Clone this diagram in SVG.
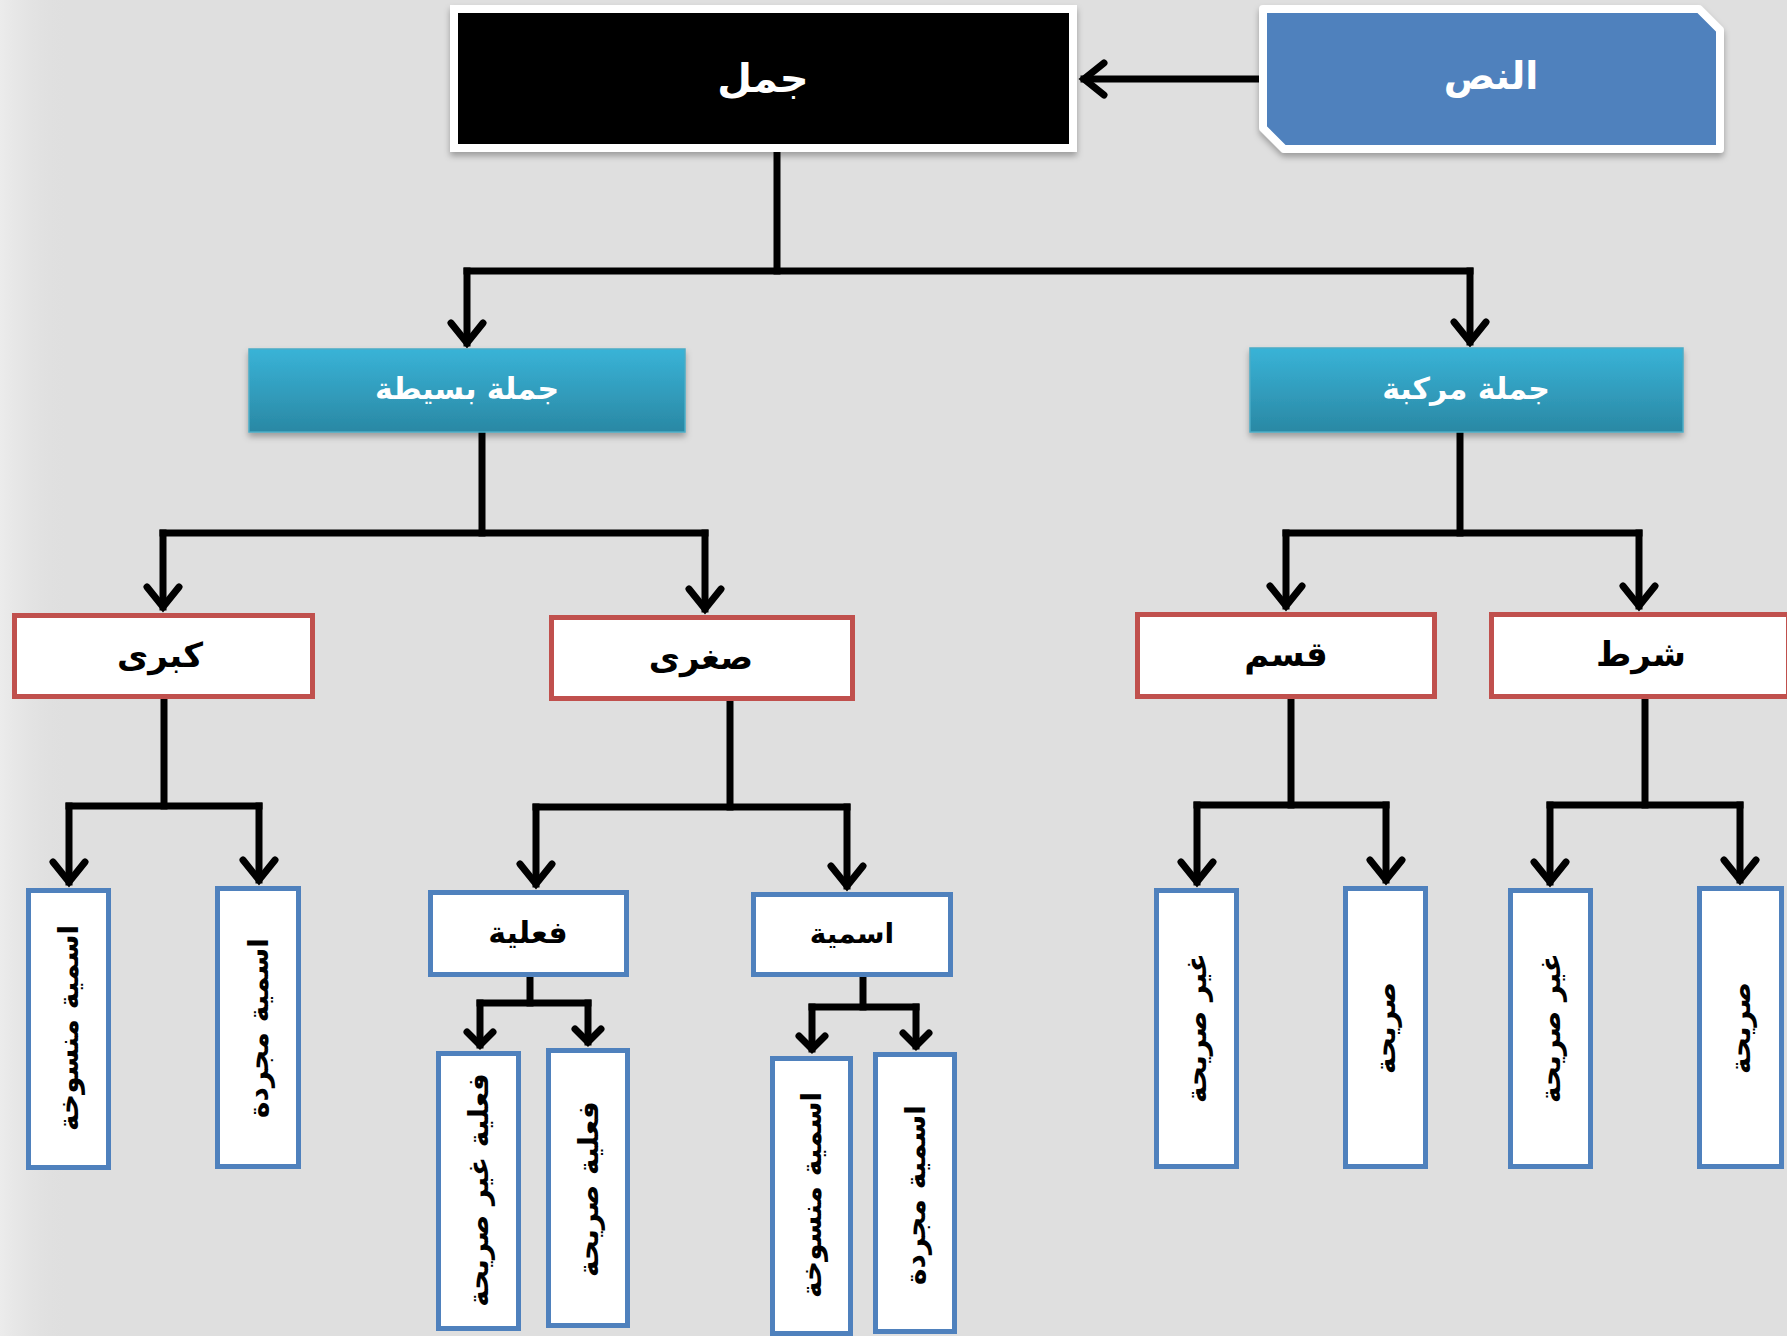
<svg xmlns="http://www.w3.org/2000/svg" width="1787" height="1336" viewBox="0 0 1787 1336">
<defs>
  <style>
    .ar{font-family:"DejaVu Sans",sans-serif;font-weight:bold;text-anchor:middle;dominant-baseline:central}
    .w{fill:#ffffff}
    .k{fill:#000000}
    .red{fill:#ffffff;stroke:#C0504D;stroke-width:5}
    .blue{fill:#ffffff;stroke:#4F81BD;stroke-width:5}
    .teal{fill:url(#tealG);stroke:#4BACC6;stroke-width:1.5}
    .ln{fill:none;stroke:#000;stroke-width:7;stroke-linecap:square}
    .big{marker-end:url(#ahB)}
    .sm{marker-end:url(#ahS)}
    .v{font-size:28px}
  </style>
  <linearGradient id="tealG" x1="0" y1="0" x2="0" y2="1">
    <stop offset="0" stop-color="#39B3D7"/>
    <stop offset="1" stop-color="#2A88A4"/>
  </linearGradient>
  <linearGradient id="bgL" x1="0" y1="0" x2="1" y2="0">
    <stop offset="0" stop-color="#ECECEC"/>
    <stop offset="1" stop-color="#DFDFDF" stop-opacity="0"/>
  </linearGradient>
  <filter id="sh" x="-10%" y="-10%" width="120%" height="130%">
    <feDropShadow dx="0" dy="4" stdDeviation="3" flood-color="#000" flood-opacity="0.3"/>
  </filter>
  <marker id="ahB" markerUnits="userSpaceOnUse" markerWidth="50" markerHeight="50" viewBox="-30 -25 50 50" refX="0" refY="0" orient="auto" overflow="visible">
    <path d="M-20,-16 L0,0 L-20,16" fill="none" stroke="#000" stroke-width="7" stroke-linejoin="miter" stroke-linecap="round"/>
  </marker>
  <marker id="ahS" markerUnits="userSpaceOnUse" markerWidth="40" markerHeight="40" viewBox="-20 -20 40 40" refX="0" refY="0" orient="auto" overflow="visible">
    <path d="M-13,-13 L0,0 L-13,13" fill="none" stroke="#000" stroke-width="7" stroke-linejoin="miter" stroke-linecap="round"/>
  </marker>
</defs>

<rect x="0" y="0" width="1787" height="1336" fill="#DFDFDF"/>
<rect x="0" y="0" width="70" height="1336" fill="url(#bgL)"/>

<g id="connectors">
  <path class="ln big" d="M1259,79 H1084"/>
  <path class="ln" d="M777,152 V271"/>
  <path class="ln" d="M467,271 H1470"/>
  <path class="ln big" d="M467,271 V343"/>
  <path class="ln big" d="M1470,271 V342"/>

  <path class="ln" d="M482,432 V533"/>
  <path class="ln" d="M163,533 H705"/>
  <path class="ln big" d="M163,533 V607"/>
  <path class="ln big" d="M705,533 V609"/>

  <path class="ln" d="M1460,432 V533"/>
  <path class="ln" d="M1286,533 H1639"/>
  <path class="ln big" d="M1286,533 V606"/>
  <path class="ln big" d="M1639,533 V606"/>

  <path class="ln" d="M164,699 V806"/>
  <path class="ln" d="M69,806 H259"/>
  <path class="ln big" d="M69,806 V882"/>
  <path class="ln big" d="M259,806 V880"/>

  <path class="ln" d="M730,701 V807"/>
  <path class="ln" d="M536,807 H847"/>
  <path class="ln big" d="M536,807 V884"/>
  <path class="ln big" d="M847,807 V886"/>

  <path class="ln" d="M1291,699 V805"/>
  <path class="ln" d="M1197,805 H1386"/>
  <path class="ln big" d="M1197,805 V882"/>
  <path class="ln big" d="M1386,805 V880"/>

  <path class="ln" d="M1645,699 V805"/>
  <path class="ln" d="M1550,805 H1740"/>
  <path class="ln big" d="M1550,805 V882"/>
  <path class="ln big" d="M1740,805 V880"/>

  <path class="ln" d="M530,977 V1003"/>
  <path class="ln" d="M480,1003 H588"/>
  <path class="ln sm" d="M480,1003 V1045"/>
  <path class="ln sm" d="M588,1003 V1042"/>

  <path class="ln" d="M863,977 V1007"/>
  <path class="ln" d="M812,1007 H916"/>
  <path class="ln sm" d="M812,1007 V1049"/>
  <path class="ln sm" d="M916,1007 V1046"/>
</g>

<g id="n-jumal">
  <rect x="454" y="9" width="619" height="139" fill="#000" stroke="#fff" stroke-width="8" filter="url(#sh)"/>
  <text class="ar w" x="763" y="78" font-size="40">جمل</text>
</g>
<g id="n-nass">
  <polygon points="1263,9 1699,9 1720,30 1720,149 1284,149 1263,128" fill="#4F81BD" stroke="#fff" stroke-width="8" stroke-linejoin="round" filter="url(#sh)"/>
  <text class="ar w" x="1491" y="76" font-size="38">النص</text>
</g>

<g id="n-basita">
  <rect class="teal" x="249" y="349" width="436" height="83" filter="url(#sh)"/>
  <text class="ar w" x="467" y="388" font-size="30">جملة بسيطة</text>
</g>
<g id="n-murakkaba">
  <rect class="teal" x="1250" y="348" width="433" height="84" filter="url(#sh)"/>
  <text class="ar w" x="1466" y="388" font-size="30">جملة مركبة</text>
</g>

<g id="n-kubra">
  <rect class="red" x="14.5" y="615.5" width="298" height="81"/>
  <text class="ar k" x="160" y="655" font-size="34">كبرى</text>
</g>
<g id="n-sughra">
  <rect class="red" x="551.5" y="617.5" width="301" height="81"/>
  <text class="ar k" x="701" y="657" font-size="34">صغرى</text>
</g>
<g id="n-qasam">
  <rect class="red" x="1137.5" y="614.5" width="297" height="82"/>
  <text class="ar k" x="1286" y="654" font-size="34">قسم</text>
</g>
<g id="n-shart">
  <rect class="red" x="1491.5" y="614.5" width="297" height="82"/>
  <text class="ar k" x="1641" y="654" font-size="34">شرط</text>
</g>

<g id="n-fiilia">
  <rect class="blue" x="430.5" y="892.5" width="196" height="82"/>
  <text class="ar k" x="528" y="932" font-size="30">فعلية</text>
</g>
<g id="n-ismia">
  <rect class="blue" x="753.5" y="894.5" width="197" height="80"/>
  <text class="ar k" x="852" y="933" font-size="28">اسمية</text>
</g>

<g id="n-kubra-mansukha">
  <rect class="blue" x="28.5" y="890.5" width="80" height="277"/>
  <text class="ar k v" transform="translate(68.5,1028) rotate(-90)">اسمية منسوخة</text>
</g>
<g id="n-kubra-mujarrada">
  <rect class="blue" x="217.5" y="888.5" width="81" height="278"/>
  <text class="ar k v" transform="translate(258,1028) rotate(-90)">اسمية مجردة</text>
</g>
<g id="n-fiilia-ghayr">
  <rect class="blue" x="438.5" y="1053.5" width="80" height="275"/>
  <text class="ar k v" transform="translate(478.5,1190) rotate(-90)">فعلية غير صريحة</text>
</g>
<g id="n-fiilia-sariha">
  <rect class="blue" x="548.5" y="1050.5" width="79" height="275"/>
  <text class="ar k v" transform="translate(588,1189) rotate(-90)">فعلية صريحة</text>
</g>
<g id="n-ismia-mansukha">
  <rect class="blue" x="772.5" y="1058.5" width="78" height="275"/>
  <text class="ar k v" transform="translate(811.5,1195) rotate(-90)">اسمية منسوخة</text>
</g>
<g id="n-ismia-mujarrada">
  <rect class="blue" x="875.5" y="1054.5" width="79" height="277"/>
  <text class="ar k v" transform="translate(915,1195) rotate(-90)">اسمية مجردة</text>
</g>
<g id="n-qasam-ghayr">
  <rect class="blue" x="1156.5" y="890.5" width="80" height="276"/>
  <text class="ar k v" transform="translate(1196.5,1028) rotate(-90)">غير صريحة</text>
</g>
<g id="n-qasam-sariha">
  <rect class="blue" x="1345.5" y="888.5" width="80" height="278"/>
  <text class="ar k v" transform="translate(1385.5,1028) rotate(-90)">صريحة</text>
</g>
<g id="n-shart-ghayr">
  <rect class="blue" x="1510.5" y="890.5" width="80" height="276"/>
  <text class="ar k v" transform="translate(1550.5,1028) rotate(-90)">غير صريحة</text>
</g>
<g id="n-shart-sariha">
  <rect class="blue" x="1699.5" y="888.5" width="82" height="278"/>
  <text class="ar k v" transform="translate(1740.5,1028) rotate(-90)">صريحة</text>
</g>
</svg>
